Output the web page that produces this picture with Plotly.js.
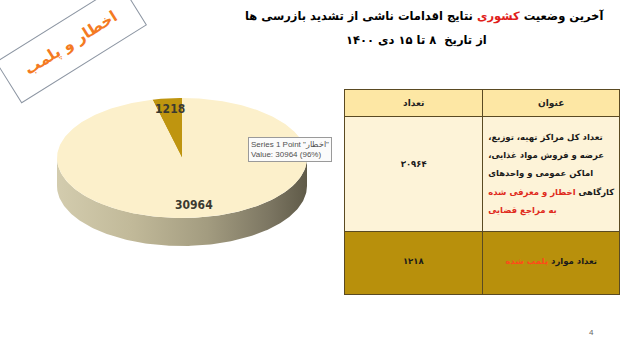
<!DOCTYPE html>
<html>
<head>
<meta charset="utf-8">
<script src="https://cdn.plot.ly/plotly-3.0.1.min.js"></script>
<style>
  html, body { margin: 0; padding: 0; background: #ffffff; }
  #chart { width: 640px; height: 339px; }
</style>
</head>
<body>
<div id="chart"></div>
<script>
// ---- data ----
const sliceNames = ['پلمب', 'اخطار'];
const sliceValues = [1218, 30964];
const headerLabels = ['تعداد', 'عنوان'];
const titleLines = [
  'آخرین وضعیت <span style="color:#e0201b">کشوری</span> نتایج اقدامات ناشی از تشدید بازرسی ها',
  'از تاریخ  ۸ تا ۱۵ دی ۱۴۰۰'
];
const rowTitleLines = [
  [
    'تعداد کل مراکز تهیه، توزیع،\u200F',
    'عرضه و فروش مواد غذایی،\u200F',
    'اماکن عمومی و واحدهای',
    'کارگاهی <span style="color:#e02a1c">اخطار و معرفی شده</span>',
    '<span style="color:#e02a1c">به مراجع قضایی</span>'
  ],
  ['تعداد موارد <span style="color:#ff4a1a">پلمب شده</span>']
];
const rowOrder = [1, 0];   // table rows: اخطار first, then پلمب
const badgeText = 'اخطار و پلمب';

// ---- helpers ----
const faDigits = '۰۱۲۳۴۵۶۷۸۹';
const toFa = n => String(n).replace(/\d/g, d => faDigits[+d]);
const plain = s => s.replace(/<[^>]+>/g, '');
const ctx = document.createElement('canvas').getContext('2d');
const textWidth = (s, size) => { ctx.font = 'bold ' + size + 'px "DejaVu Sans"'; return ctx.measureText(plain(s)).width; };
const BLANK = '\u00A0';

// 3D pie geometry (axis units = pixels)
const cx = 182, cy = 158, rx = 125, ry = 60, depth = 28;
const rad = a => a * Math.PI / 180;
const px = (a, f) => cx + f * rx * Math.cos(rad(a));
const py = (a, f, dy) => cy - f * ry * Math.sin(rad(a)) + (dy || 0);

const total = sliceValues.reduce((s, v) => s + v, 0);
const topColors = ['#bf950f', '#fcf0cb'];
const startAngle = 90;

let cum = 0;
const slices = sliceValues.map((v, i) => {
  const a0 = startAngle + cum / total * 360;
  cum += v;
  const a1 = startAngle + cum / total * 360;
  return { a0, a1, v, name: sliceNames[i], color: topColors[i] };
});

const traces = [];

// side walls (front half of the rim, 180..360 deg)
slices.forEach(s => {
  [[180, 360], [540, 720]].forEach(([lo, hi]) => {
    const b0 = Math.max(s.a0, lo), b1 = Math.min(s.a1, hi);
    if (b1 <= b0) return;
    const xs = [], ys = [];
    for (let a = b0; a <= b1 + 1e-9; a += 1) { xs.push(px(a, 1)); ys.push(py(a, 1)); }
    for (let a = b1; a >= b0 - 1e-9; a -= 1) { xs.push(px(a, 1)); ys.push(py(a, 1, depth)); }
    traces.push({
      type: 'scatter', mode: 'lines', x: xs, y: ys, fill: 'toself',
      line: { width: 0 }, hoverinfo: 'skip',
      fillgradient: {
        type: 'horizontal',
        colorscale: [[0, '#d3ccae'], [0.3, '#c1b999'], [0.6, '#a39c80'], [0.85, '#7c7662'], [1, '#5f5a48']]
      }
    });
  });
});

// top faces
slices.forEach(s => {
  const xs = [cx], ys = [cy];
  const n = Math.max(2, Math.ceil(s.a1 - s.a0));
  for (let k = 0; k <= n; k++) {
    const a = s.a0 + (s.a1 - s.a0) * k / n;
    xs.push(px(a, 1)); ys.push(py(a, 1));
  }
  xs.push(cx); ys.push(cy);
  traces.push({
    type: 'scatter', mode: 'lines', x: xs, y: ys, fill: 'toself',
    fillcolor: s.color, line: { width: 0 }, hoverinfo: 'skip'
  });
});

// value labels
traces.push({
  type: 'scatter', mode: 'text',
  x: slices.map(s => px((s.a0 + s.a1) / 2, 0.8)),
  y: slices.map(s => py((s.a0 + s.a1) / 2, 0.8)),
  text: slices.map(s => '<b>' + s.v + '</b>'),
  textfont: { family: 'DejaVu Sans Condensed, DejaVu Sans', size: 12, color: '#3b3a30' },
  hoverinfo: 'skip'
});

// ---- summary table ----
// the cell font sets the line step; text lines are drawn larger and
// separated by spacer lines so they sit on a looser rhythm
const stepFont = 7, textFont = 8.5;
const big8 = s => '<span style="font-size:' + textFont + 'px">' + s + '</span>';
const pad = n => Array(n).fill(BLANK);
const spaced = lines => lines.map(big8).reduce((acc, l, i) => i ? acc.concat([BLANK, l]) : [l], []);

const titleCol = rowTitleLines.map((lines, r) => {
  const top = r === 0 ? 1 : 2;
  const bottom = r === 0 ? 1 : 0;
  return '<b>' + pad(top).concat(spaced(lines), pad(bottom)).join('<br>') + '</b>';
});
const countCol = rowOrder.map((i, r) => {
  const top = r === 0 ? 4 : 2;
  return '<b>' + pad(top).concat([big8(toFa(sliceValues[i]))]).join('<br>') + '</b>';
});
const rowFill = ['#fdf3d8', '#b8900c'];
traces.push({
  type: 'table',
  domain: { x: [0.539, 0.969], y: [0.127, 0.735] },
  columnwidth: [1, 1],
  header: {
    values: headerLabels.map(h => '<b>' + h + '</b>'),
    height: 25, align: 'center',
    fill: { color: '#fde7a4' },
    line: { color: '#5a4a22', width: 1 },
    font: { family: 'DejaVu Sans', size: 9, color: '#222222' }
  },
  cells: {
    values: [countCol, titleCol],
    height: 63, align: 'center',
    fill: { color: [rowFill, rowFill] },
    line: { color: '#5a4a22', width: 1 },
    font: { family: 'DejaVu Sans', size: stepFont, color: '#1a1a1a' }
  }
});

// title sized to its measured width
const titleSize = Math.min(16, Math.floor(12 * 372 / textWidth(titleLines[0], 12) * 2) / 2);

const big = slices[1];
const layout = {
  width: 640, height: 339,
  margin: { l: 0, r: 0, t: 0, b: 0 },
  paper_bgcolor: '#ffffff', plot_bgcolor: 'rgba(0,0,0,0)',
  showlegend: false,
  xaxis: { range: [0, 640], visible: false, fixedrange: true },
  yaxis: { range: [339, 0], visible: false, fixedrange: true },
  annotations: [
    {
      xref: 'x', yref: 'y', x: 424, y: 16, showarrow: false,
      text: '<b>' + titleLines[0] + '</b>',
      font: { family: 'DejaVu Sans', size: titleSize, color: '#000000' }
    },
    {
      xref: 'x', yref: 'y', x: 416, y: 40, showarrow: false,
      text: '<b>' + titleLines[1] + '</b>',
      font: { family: 'DejaVu Sans', size: titleSize, color: '#000000' }
    },
    {
      xref: 'x', yref: 'y', x: 71, y: 43, showarrow: false,
      text: '<b>' + badgeText + '</b>', textangle: -32,
      width: 124, height: 25, align: 'center', valign: 'middle',
      font: { family: 'DejaVu Sans', size: 15.5, color: '#f47a22' },
      bgcolor: '#ffffff', bordercolor: '#8d96a3', borderwidth: 1, borderpad: 11
    },
    {
      xref: 'x', yref: 'y', x: 290, y: 149, showarrow: false, align: 'left',
      text: 'Series 1 Point "' + big.name + '"<br>Value: ' + big.v + ' (' + Math.round(big.v / total * 100) + '%)',
      font: { family: 'Liberation Sans', size: 8, color: '#505050' },
      bgcolor: '#fbfbfb', bordercolor: '#9a9a9a', borderwidth: 1, borderpad: 2
    },
    {
      xref: 'x', yref: 'y', x: 591, y: 332, showarrow: false,
      text: '4', font: { family: 'Liberation Sans', size: 8, color: '#666666' }
    }
  ]
};

Plotly.newPlot('chart', traces, layout, { displayModeBar: false, staticPlot: true });
</script>
</body>
</html>
